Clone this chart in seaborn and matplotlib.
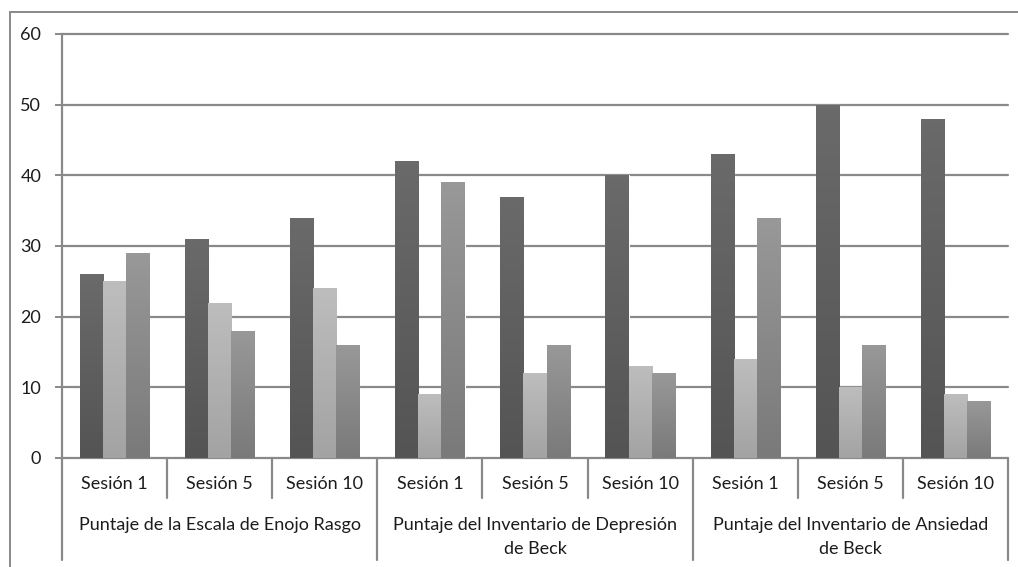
import numpy as np
import pandas as pd
import matplotlib
matplotlib.use("Agg")
import matplotlib.pyplot as plt
import matplotlib.transforms as mtransforms
from matplotlib.lines import Line2D
import seaborn as sns

sns.set_theme(style="white")
plt.rcParams['font.family'] = ['Lato', 'DejaVu Sans']

# data
groups = ["Puntaje de la Escala de Enojo Rasgo",
          "Puntaje del Inventario de Depresión\nde Beck",
          "Puntaje del Inventario de Ansiedad\nde Beck"]
sessions = ["Sesión 1", "Sesión 5", "Sesión 10"]
series = ["Serie 1", "Serie 2", "Serie 3"]
serie1 = [26, 31, 34, 42, 37, 40, 43, 50, 48]
serie2 = [25, 22, 24, 9, 12, 13, 14, 10, 9]
serie3 = [29, 18, 16, 39, 16, 12, 34, 16, 8]
colors = ["#5f5f5f", "#b3b3b3", "#8b8b8b"]
grad_top = ["#6a6a6a", "#bdbdbd", "#989898"]
grad_bottom = ["#545454", "#a3a3a3", "#7a7a7a"]

cats = [f"{g}|{s}" for g in groups for s in sessions]
rows = []
for name, vals in zip(series, [serie1, serie2, serie3]):
    for c, v in zip(cats, vals):
        rows.append({"cat": c, "serie": name, "valor": v})
df = pd.DataFrame(rows)

fig = plt.figure(figsize=(10.18, 5.67), dpi=100)
W, H = 1018, 567
ax = fig.add_axes([62 / W, 1 - 458 / H, (1008 - 62) / W, (458 - 34) / H])

sns.barplot(data=df, x="cat", y="valor", hue="serie", order=cats,
            hue_order=series, palette=colors, width=0.66, ax=ax,
            edgecolor="white", linewidth=0.8, legend=False, saturation=1)

# vertical gradient on bars
for cont, top, bot in zip(ax.containers, grad_top, grad_bottom):
    cmap = matplotlib.colors.LinearSegmentedColormap.from_list("g", [bot, top])
    for p in cont:
        x0, y0 = p.get_x(), p.get_y()
        w, h = p.get_width(), p.get_height()
        im = ax.imshow(np.linspace(0, 1, 64).reshape(-1, 1), cmap=cmap,
                       origin="lower", aspect="auto",
                       extent=[x0, x0 + w, y0, y0 + h], zorder=2)
        im.set_clip_path(p)
        p.set_zorder(1)

grid_c = "#898989"
txt_c = "#1c1c1c"
ax.set_xlim(-0.5, 8.5)
ax.set_ylim(0, 60)
ax.set_yticks(range(0, 61, 10))
ax.set_xticks([])
ax.set_xlabel("")
ax.set_ylabel("")
ax.set_axisbelow(True)
ax.yaxis.grid(True, color=grid_c, linewidth=1.6)
for gl in ax.get_ygridlines():
    gl.set_clip_on(False)
for s in ["top", "right", "bottom"]:
    ax.spines[s].set_visible(False)
ax.spines["left"].set_color(grid_c)
ax.spines["left"].set_linewidth(1.6)
ax.tick_params(axis="y", left=True, length=5, width=1.4, color=grid_c,
               pad=10, labelsize=13, labelcolor=txt_c)

# multi-level category axis
trans = mtransforms.blended_transform_factory(ax.transData, ax.transAxes)
ax_h = 458 - 34
for i, c in enumerate(cats):
    ax.text(i, -(484 - 458) / ax_h, c.split("|")[1], transform=trans,
            ha="center", va="center", fontsize=13, color=txt_c)
for i in range(len(cats) + 1):
    x = i - 0.5
    if i % 3 == 0:
        y_end = -(560 - 458) / ax_h
    else:
        y_end = -(498 - 458) / ax_h
    ax.add_line(Line2D([x, x], [0, y_end], transform=trans, color=grid_c,
                       linewidth=1.6, clip_on=False))
for j, g in enumerate(groups):
    ax.text(3 * j + 1, -(517 - 458) / ax_h, g, transform=trans,
            ha="center", va="top", fontsize=13, color=txt_c,
            linespacing=1.6)

# outer chart border (top and left only visible)
fig.add_artist(Line2D([10 / W, 1.0], [1 - 12 / H, 1 - 12 / H],
                      transform=fig.transFigure, color=grid_c, linewidth=1.4))
fig.add_artist(Line2D([10 / W, 10 / W], [1 - 12 / H, 0],
                      transform=fig.transFigure, color=grid_c, linewidth=1.4))

fig.savefig("out.png", dpi=100, facecolor="white")
